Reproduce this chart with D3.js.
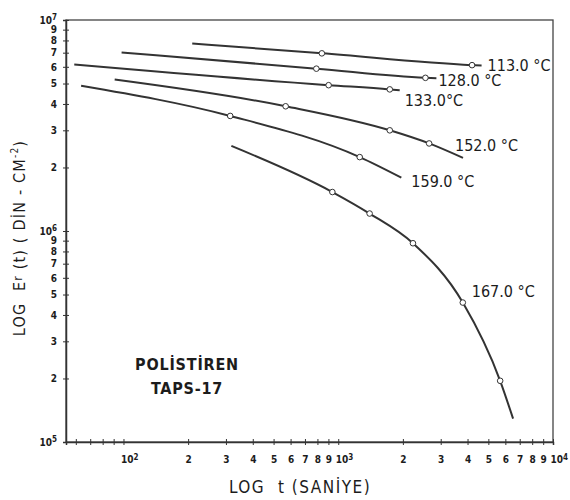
<!DOCTYPE html>
<html>
<head>
    <meta charset="utf-8">
    <title>Polistiren TAPS-17 - LOG Er(t)</title>
    <script src="https://d3js.org/d3.v7.min.js"></script>
    <style>
        body { margin: 0; background: #fff; }
        text { font-family: "DejaVu Sans Condensed", "DejaVu Sans", sans-serif; fill: #1c1c1c; }
        .tick text { font-size: 10px; font-weight: bold; }
        .tick line { stroke: #333; stroke-width: 1; }
        .domain { stroke: #333; stroke-width: 1.5; }
    </style>
</head>
<body>
<svg id="grafico" width="570" height="500"></svg>
<script>
    // valores: tiempo t (s) y modulo Er(t) (din/cm2)
    const etiquetas = ["113.0 °C", "128.0 °C", "133.0°C", "152.0 °C", "159.0 °C", "167.0 °C"];

    const t113 = [209, 839, 4198, 4650];
    const e113 = [7.74e6, 6.95e6, 6.11e6, 6.08e6];
    const m113 = [0, 1, 1, 0];

    const t128 = [98, 791, 2547, 2865];
    const e128 = [7.02e6, 5.88e6, 5.32e6, 5.30e6];
    const m128 = [0, 1, 1, 0];

    const t133 = [59, 902, 1738, 1933];
    const e133 = [6.15e6, 4.91e6, 4.69e6, 4.64e6];
    const m133 = [0, 1, 1, 0];

    const t152 = [91, 569, 1738, 2650, 3811];
    const e152 = [5.22e6, 3.90e6, 3.00e6, 2.60e6, 2.22e6];
    const m152 = [0, 1, 1, 1, 0];

    const t159 = [63.5, 314, 1259, 1967];
    const e159 = [4.88e6, 3.51e6, 2.24e6, 1.79e6];
    const m159 = [0, 1, 1, 0];

    const t167 = [318, 939, 1400, 2228, 3802, 5675, 6518];
    const e167 = [2.53e6, 1.53e6, 1.21e6, 8.75e5, 4.58e5, 1.95e5, 1.29e5];
    const m167 = [0, 1, 1, 1, 1, 1, 0];

    // ticks de los ejes log
    const ticksX = [60, 70, 80, 90, 100, 200, 300, 400, 500, 600, 700, 800, 900,
        1000, 2000, 3000, 4000, 5000, 6000, 7000, 8000, 9000, 10000];
    const ticksY = [1e5, 2e5, 3e5, 4e5, 5e5, 6e5, 7e5, 8e5, 9e5,
        1e6, 2e6, 3e6, 4e6, 5e6, 6e6, 7e6, 8e6, 9e6, 1e7];

    const series = [
        { t: t113, e: e113, m: m113 },
        { t: t128, e: e128, m: m128 },
        { t: t133, e: e133, m: m133 },
        { t: t152, e: e152, m: m152 },
        { t: t159, e: e159, m: m159 },
        { t: t167, e: e167, m: m167 }
    ];
    // punto de referencia de cada etiqueta y desplazamiento en px
    const anclaEtiqueta = [3, 3, 3, 4, 3, 4];
    const despEtiqueta = [[6, 5], [2, 8], [5, 16], [-8, -7], [10, 9], [9, -6]];

    function esPotencia(d) {
        const l = Math.log10(d);
        return Math.abs(l - Math.round(l)) < 1e-9;
    }
    function formato(d) {
        if (esPotencia(d)) return "10";
        return String(Math.round(d / Math.pow(10, Math.floor(Math.log10(d)))));
    }
    // exponente como tspan
    function exponentes(g) {
        g.selectAll(".tick text").each(function(d) {
            if (esPotencia(d) && d >= 100) {
                d3.select(this).append("tspan")
                    .attr("dy", "-0.45em")
                    .attr("font-size", 8)
                    .text(Math.round(Math.log10(d)));
            }
        });
    }

    const svg = d3.select("#grafico");

    const x = d3.scaleLog().domain([54, 1e4]).range([66, 553]);
    const y = d3.scaleLog().domain([1e5, 1e7]).range([442, 20]);

    // marco
    svg.append("rect")
        .attr("x", x(54)).attr("y", y(1e7))
        .attr("width", x(1e4) - x(54)).attr("height", y(1e5) - y(1e7))
        .attr("fill", "none").attr("stroke", "#444").attr("stroke-width", 1.3);

    // ejes
    const ejeX = svg.append("g")
        .attr("transform", `translate(0,${y(1e5)})`)
        .call(d3.axisBottom(x).tickValues(ticksX)
            .tickFormat(d => d < 100 ? "" : formato(d))
            .tickSize(3).tickPadding(11));
    ejeX.selectAll(".tick line").attr("y1", -3);
    exponentes(ejeX);
    // las potencias de 10 empiezan en el tick para no pisar el 9
    ejeX.selectAll(".tick text")
        .filter(d => esPotencia(d))
        .attr("text-anchor", "start")
        .attr("x", -3);

    const ejeY = svg.append("g")
        .attr("transform", `translate(${x(54)},0)`)
        .call(d3.axisLeft(y).tickValues(ticksY)
            .tickFormat(formato)
            .tickSize(3).tickPadding(6));
    ejeY.selectAll(".tick line").attr("x1", 3);
    exponentes(ejeY);

    // curvas
    const linea = d3.line()
        .x(p => x(p[0]))
        .y(p => y(p[1]))
        .curve(d3.curveMonotoneX);

    series.forEach((s, i) => {
        const pts = s.t.map((t, j) => [t, s.e[j], s.m[j]]);
        svg.append("path")
            .datum(pts)
            .attr("fill", "none")
            .attr("stroke", "#333")
            .attr("stroke-width", 2)
            .attr("d", linea);

        svg.selectAll(null)
            .data(pts.filter(p => p[2]))
            .enter().append("circle")
            .attr("cx", p => x(p[0]))
            .attr("cy", p => y(p[1]))
            .attr("r", 2.8)
            .attr("fill", "#fff")
            .attr("stroke", "#333")
            .attr("stroke-width", 1);

        const a = pts[anclaEtiqueta[i]];
        svg.append("text")
            .attr("x", x(a[0]) + despEtiqueta[i][0])
            .attr("y", y(a[1]) + despEtiqueta[i][1])
            .attr("font-size", 16)
            .text(etiquetas[i]);
    });

    // texto del material
    svg.append("text")
        .attr("x", 187).attr("y", 370)
        .attr("text-anchor", "middle")
        .attr("font-size", 16).attr("font-weight", "bold")
        .attr("letter-spacing", 0.8)
        .text("POLİSTİREN");
    svg.append("text")
        .attr("x", 187).attr("y", 394)
        .attr("text-anchor", "middle")
        .attr("font-size", 16).attr("font-weight", "bold")
        .attr("letter-spacing", 0.8)
        .text("TAPS-17");

    // titulos de ejes
    svg.append("text")
        .attr("x", 300).attr("y", 493)
        .attr("text-anchor", "middle")
        .attr("font-size", 17)
        .attr("letter-spacing", 1.5)
        .attr("xml:space", "preserve")
        .text("LOG  t (SANİYE)");

    const tituloY = svg.append("text")
        .attr("transform", "translate(25,238) rotate(-90)")
        .attr("text-anchor", "middle")
        .attr("font-size", 16)
        .attr("letter-spacing", 1.2)
        .attr("xml:space", "preserve");
    tituloY.append("tspan").text("LOG  E");
    tituloY.append("tspan").attr("font-size", 12).attr("dy", -3).text("r");
    tituloY.append("tspan").attr("dy", 3).text(" (t) ( DİN - CM");
    tituloY.append("tspan").attr("font-size", 10).attr("dy", -7).text("-2");
    tituloY.append("tspan").attr("dy", 7).text(")");
</script>
</body>
</html>
